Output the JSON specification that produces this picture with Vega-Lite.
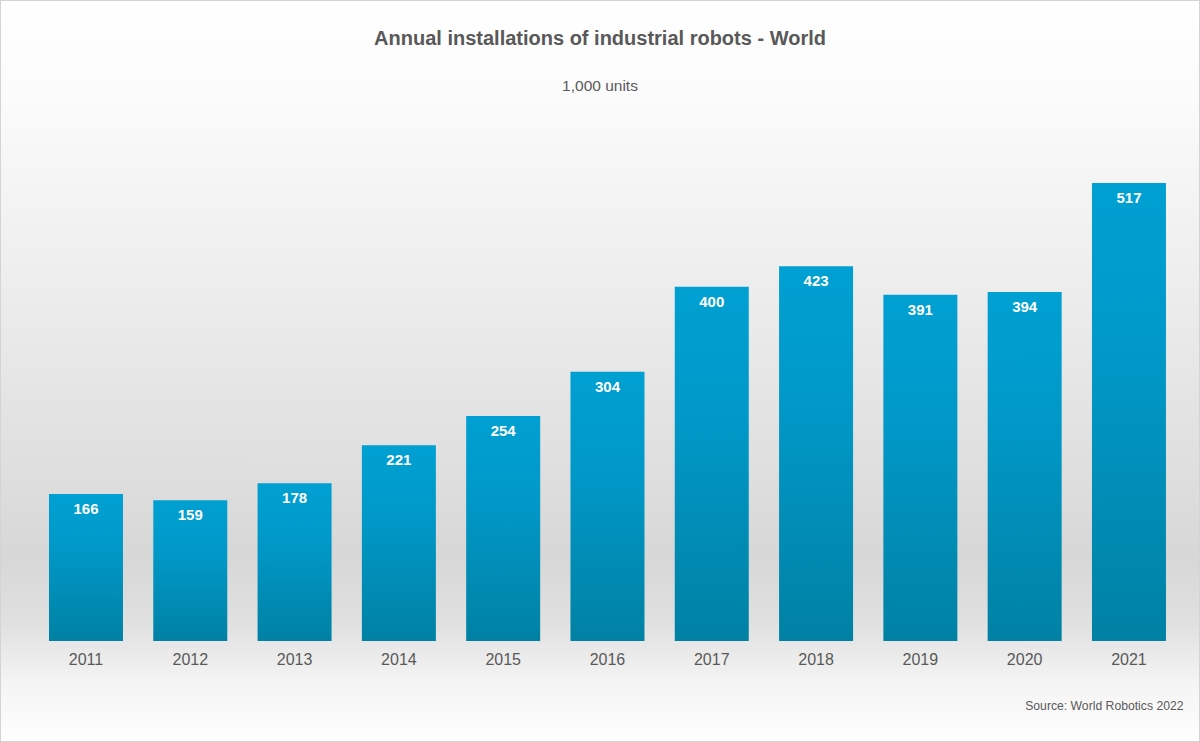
{
  "$schema": "https://vega.github.io/schema/vega-lite/v6.json",
  "width": 1200,
  "height": 742,
  "autosize": "none",
  "padding": 0,
  "background": "white",
  "title": {
    "text": "Annual installations of industrial robots - World",
    "subtitle": "1,000 units",
    "anchor": "middle",
    "font": "Liberation Sans",
    "fontSize": 20,
    "fontWeight": "bold",
    "color": "#595959",
    "subtitleFont": "Liberation Sans",
    "subtitleFontSize": 15.5,
    "subtitleColor": "#595959",
    "subtitlePadding": 30,
    "offset": -94
  },
  "data": {
    "values": [
      {"year": "2011", "units": 166},
      {"year": "2012", "units": 159},
      {"year": "2013", "units": 178},
      {"year": "2014", "units": 221},
      {"year": "2015", "units": 254},
      {"year": "2016", "units": 304},
      {"year": "2017", "units": 400},
      {"year": "2018", "units": 423},
      {"year": "2019", "units": 391},
      {"year": "2020", "units": 394},
      {"year": "2021", "units": 517}
    ]
  },
  "encoding": {
    "x": {
      "field": "year",
      "type": "ordinal",
      "scale": {"paddingInner": 0.2905, "paddingOuter": 0.398, "align": 0.59, "round": false},
      "axis": {
        "labelAngle": 0,
        "ticks": false,
        "domain": false,
        "labelFont": "Liberation Sans",
        "labelFontSize": 16,
        "labelColor": "#595959",
        "labelPadding": 10,
        "offset": -101,
        "title": "Source: World Robotics 2022",
        "titleFont": "Liberation Sans",
        "titleFontSize": 12.2,
        "titleFontWeight": "normal",
        "titleColor": "#595959",
        "titleAlign": "right",
        "titleBaseline": "middle",
        "titleX": 1183,
        "titleY": 64
      }
    },
    "y": {
      "field": "units",
      "type": "quantitative",
      "scale": {"domain": [-114, 723.6], "nice": false, "zero": false},
      "axis": null
    }
  },
  "layer": [
    {
      "mark": {
        "type": "bar",
        "fill": {
          "gradient": "linear",
          "x1": 0, "y1": 0, "x2": 0, "y2": 1,
          "stops": [
            {"offset": 0, "color": "#00a0d2"},
            {"offset": 0.35, "color": "#0099c9"},
            {"offset": 1, "color": "#0081a4"}
          ]
        }
      },
      "encoding": {
        "y2": {"datum": 0}
      }
    },
    {
      "mark": {
        "type": "text",
        "baseline": "middle",
        "dy": 15,
        "font": "Liberation Sans",
        "fontSize": 15,
        "fontWeight": "bold",
        "fill": "white"
      },
      "encoding": {
        "text": {"field": "units", "type": "quantitative"}
      }
    }
  ],
  "config": {
    "view": {
      "stroke": "#d4d4d4",
      "strokeWidth": 2,
      "fill": {
        "gradient": "linear",
        "x1": 0, "y1": 0, "x2": 0, "y2": 1,
        "stops": [
          {"offset": 0, "color": "#ffffff"},
          {"offset": 0.13, "color": "#fbfbfb"},
          {"offset": 0.4, "color": "#ececec"},
          {"offset": 0.61, "color": "#e0e0e0"},
          {"offset": 0.75, "color": "#d7d7d7"},
          {"offset": 0.84, "color": "#e0e0e0"},
          {"offset": 0.92, "color": "#f4f4f4"},
          {"offset": 1, "color": "#ffffff"}
        ]
      }
    }
  }
}
